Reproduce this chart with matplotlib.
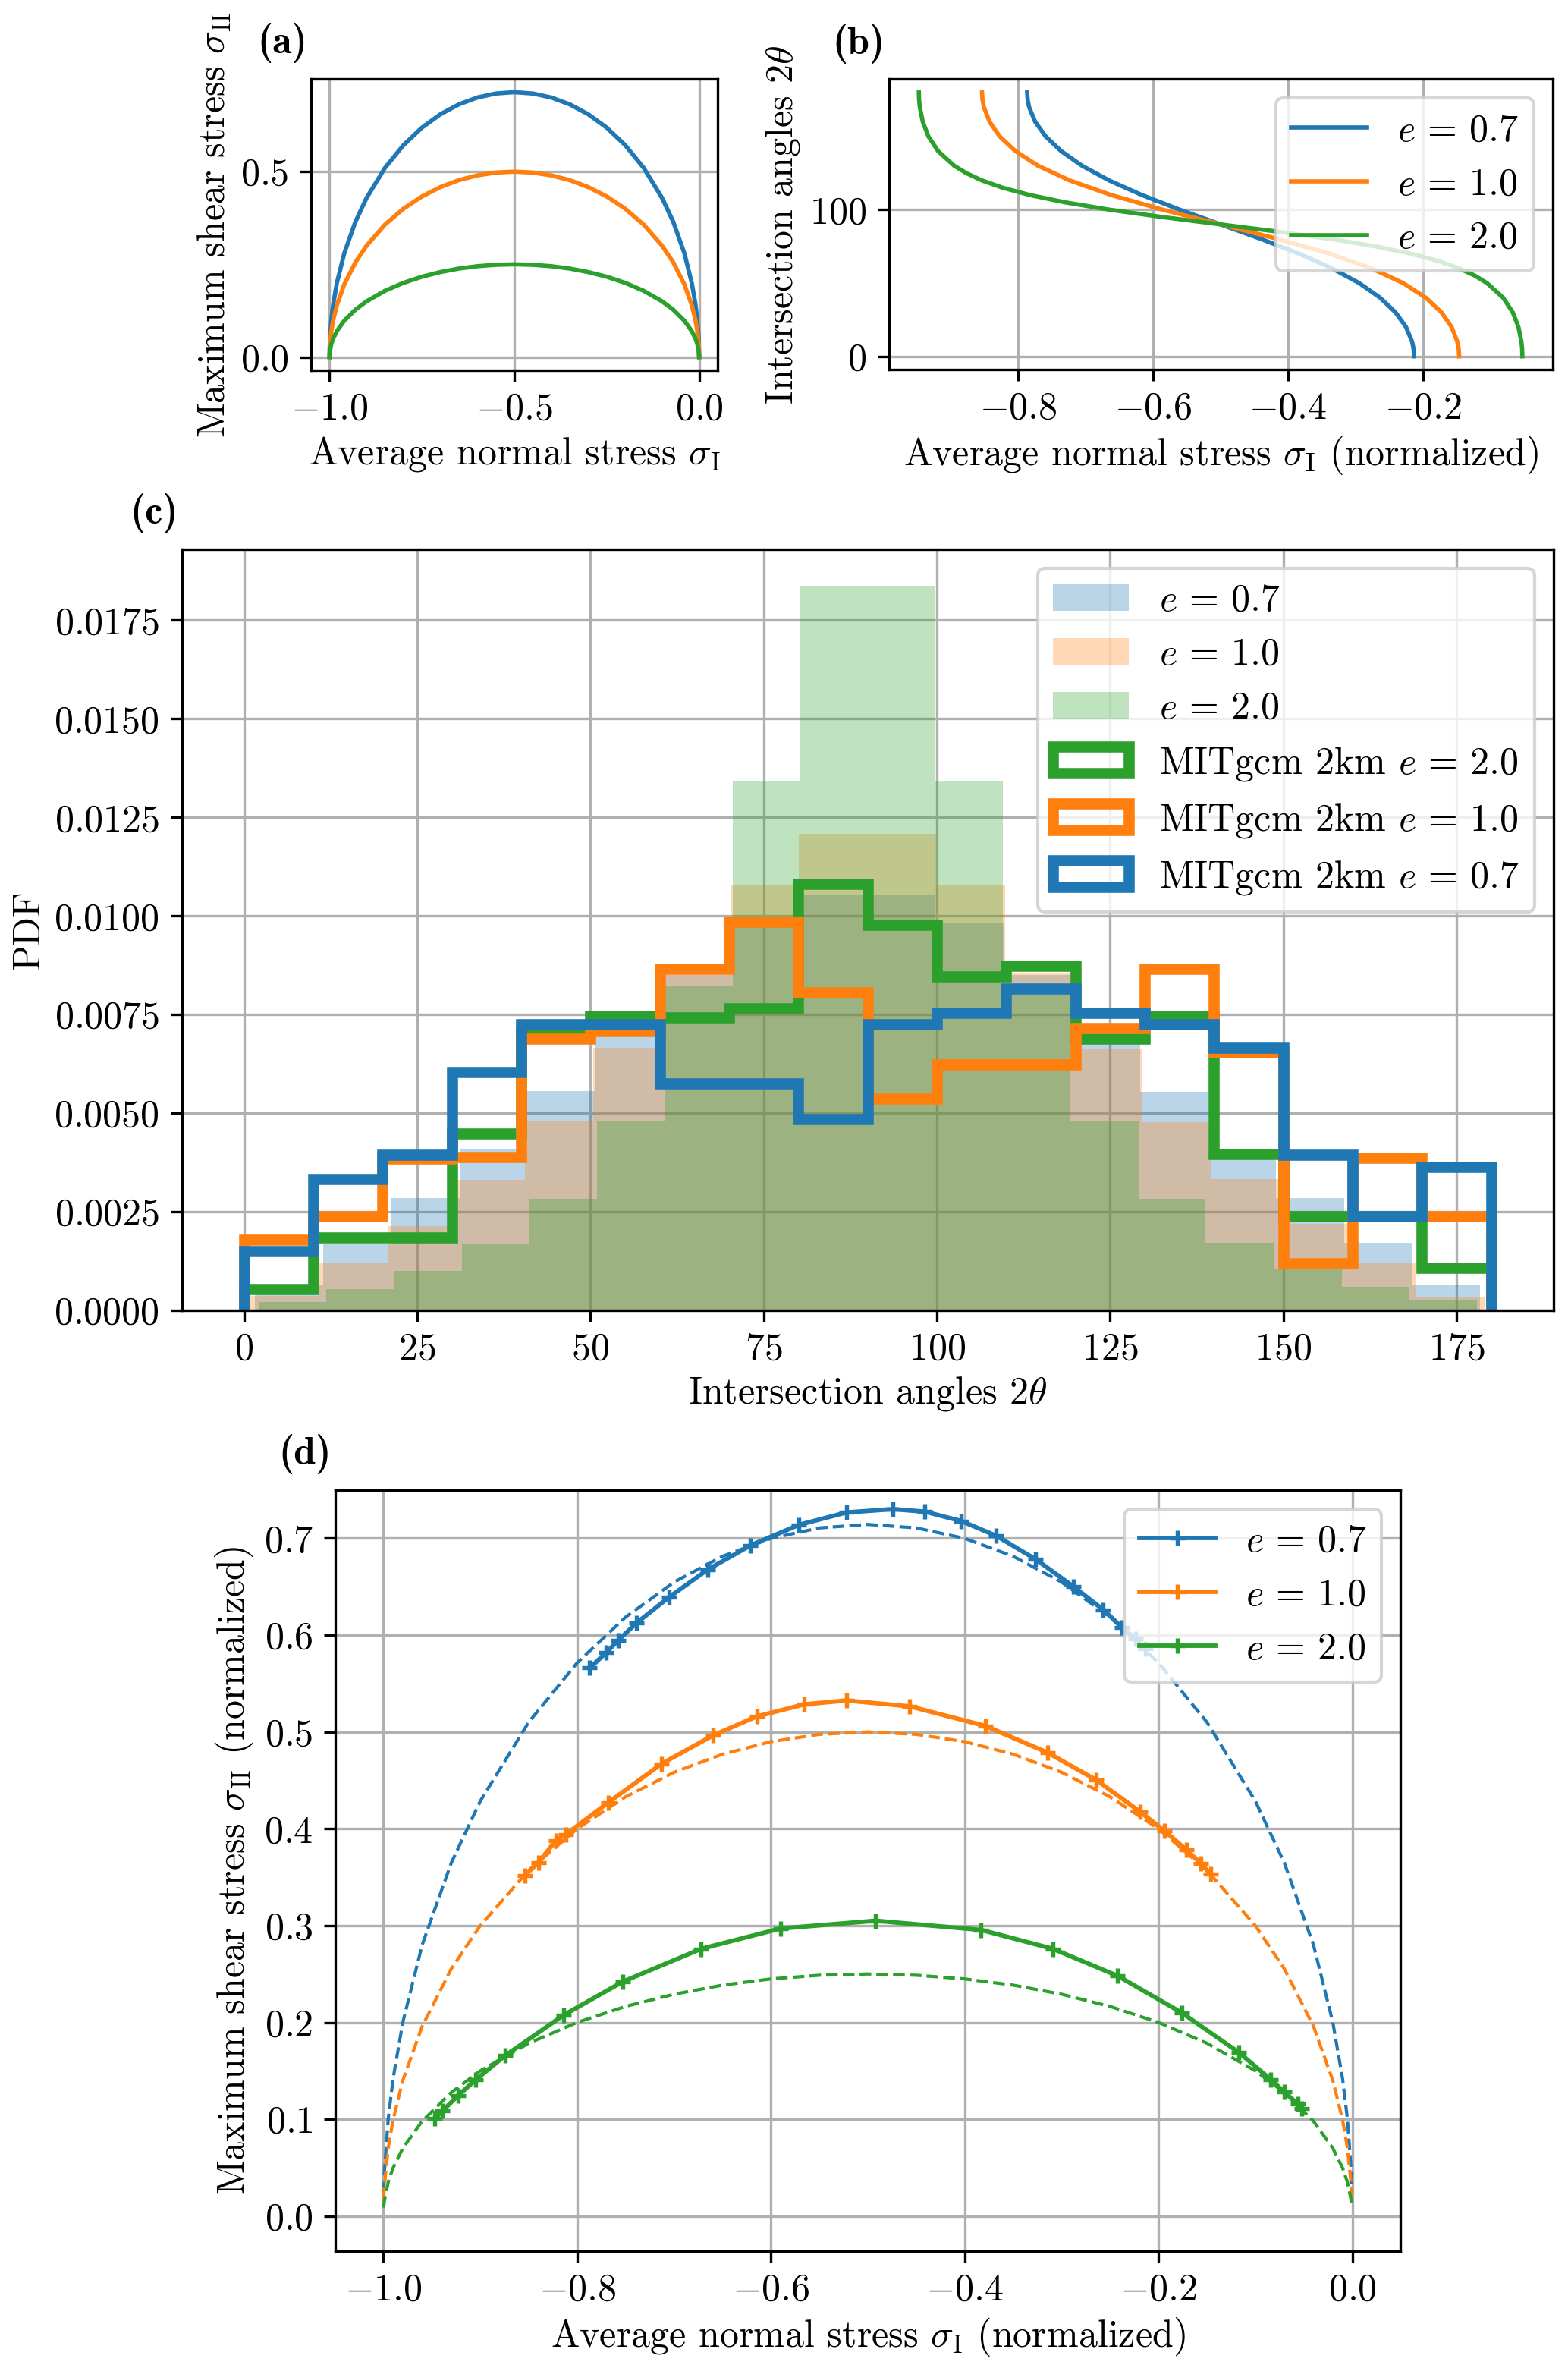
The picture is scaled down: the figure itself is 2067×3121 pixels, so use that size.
import numpy as np
import matplotlib
matplotlib.use("Agg")
import matplotlib.pyplot as plt

plt.rcParams.update({
    "font.family": "serif",
    "font.serif": ["cmr10"],
    "mathtext.fontset": "cm",
    "axes.formatter.use_mathtext": True,
    "font.size": 12,
    "axes.grid": True,
    "axes.axisbelow": True,
    "axes.labelpad": 2.5,
})

# ---------------- data ----------------
e_labels = [r"$e\,=\,0.7$", r"$e\,=\,1.0$", r"$e\,=\,2.0$"]
colors = ["C0", "C1", "C2"]

# (a) yield curves (ellipses), sigma_I vs sigma_II
yc_x = [-1.0, -0.999, -0.995, -0.99, -0.98, -0.96, -0.93, -0.9, -0.85, -0.8, -0.75, -0.7,
        -0.65, -0.6, -0.55, -0.5, -0.45, -0.4, -0.35, -0.3, -0.25, -0.2, -0.15, -0.1,
        -0.07, -0.04, -0.02, -0.01, -0.005, -0.001, 0.0]
yc_e07 = [0.0, 0.0452, 0.1007, 0.1421, 0.2000, 0.2800, 0.3646, 0.4286, 0.5101, 0.5714, 0.6186,
          0.6547, 0.6814, 0.6999, 0.7107, 0.7143, 0.7107, 0.6999, 0.6814, 0.6547, 0.6186,
          0.5714, 0.5101, 0.4286, 0.3646, 0.2800, 0.2000, 0.1421, 0.1007, 0.0452, 0.0]
yc_e10 = [0.0, 0.0316, 0.0705, 0.0995, 0.1400, 0.1960, 0.2552, 0.3000, 0.3571, 0.4000, 0.4330,
          0.4583, 0.4770, 0.4899, 0.4975, 0.5000, 0.4975, 0.4899, 0.4770, 0.4583, 0.4330,
          0.4000, 0.3571, 0.3000, 0.2552, 0.1960, 0.1400, 0.0995, 0.0705, 0.0316, 0.0]
yc_e20 = [0.0, 0.0158, 0.0353, 0.0498, 0.0700, 0.0980, 0.1276, 0.1500, 0.1785, 0.2000, 0.2165,
          0.2291, 0.2385, 0.2449, 0.2487, 0.2500, 0.2487, 0.2449, 0.2385, 0.2291, 0.2165,
          0.2000, 0.1785, 0.1500, 0.1276, 0.0980, 0.0700, 0.0498, 0.0353, 0.0158, 0.0]

# (d) dashed curves end slightly above zero
d_end_x = [-0.9997, -0.0003]
d_end_y = [0.0247, 0.0173, 0.0087]

# (b) intersection angle vs normalized sigma_I
ang_e07 = [0, 5, 10, 20, 30, 40, 50, 60, 70, 80, 90, 100, 110, 120, 130, 140, 150, 160, 170, 175, 180]
sx_e07 = [-0.2133, -0.2140, -0.2162, -0.2252, -0.2408, -0.2637, -0.2948, -0.3348, -0.3836,
          -0.4397, -0.5, -0.5603, -0.6164, -0.6652, -0.7052, -0.7363, -0.7592, -0.7748,
          -0.7838, -0.7860, -0.7867]
ang_e10 = [0, 5, 10, 20, 30, 40, 50, 60, 70, 80, 90, 100, 110, 120, 130, 140, 150, 160, 170, 175, 180]
sx_e10 = [-0.1464, -0.1471, -0.1492, -0.1576, -0.1727, -0.1959, -0.2296, -0.2764, -0.3382,
          -0.4145, -0.5, -0.5855, -0.6618, -0.7236, -0.7704, -0.8041, -0.8273, -0.8424,
          -0.8508, -0.8529, -0.8536]
ang_e20 = [0, 5, 10, 20, 30, 40, 50, 55, 60, 65, 70, 75, 80, 85, 90, 95, 100, 105, 110, 115,
           120, 125, 130, 140, 150, 160, 170, 175, 180]
sx_e20 = [-0.0528, -0.0531, -0.0542, -0.0586, -0.0670, -0.0813, -0.1053, -0.1231, -0.1464,
          -0.1772, -0.2177, -0.2702, -0.3360, -0.4141, -0.5, -0.5859, -0.6640, -0.7298,
          -0.7823, -0.8228, -0.8536, -0.8769, -0.8947, -0.9187, -0.9330, -0.9414, -0.9458,
          -0.9469, -0.9472]

# (c) theoretical PDFs (shaded)
th_edges_e07 = [1.6, 11.4, 21.2, 31.1, 40.9, 50.7, 60.5, 70.4, 80.2, 90.0, 99.8, 109.6, 119.5,
                129.3, 139.1, 148.9, 158.8, 168.6, 178.4]
th_pdf_e07 = [0.00066, 0.00170, 0.00285, 0.00410, 0.00556, 0.00702, 0.00850, 0.00980, 0.01053,
              0.01053, 0.00982, 0.00850, 0.00695, 0.00555, 0.00410, 0.00285, 0.00172, 0.00066]
th_edges_e10 = [0.9, 10.8, 20.7, 30.6, 40.5, 50.4, 60.3, 70.2, 80.1, 90.0, 99.9, 109.8, 119.7,
                129.6, 139.5, 149.4, 159.3, 169.2, 179.1]
th_pdf_e10 = [0.00037, 0.00120, 0.00213, 0.00331, 0.00480, 0.00665, 0.00852, 0.01080, 0.01208,
              0.01208, 0.01080, 0.00857, 0.00661, 0.00478, 0.00333, 0.00220, 0.00120, 0.00032]
th_edges_e20 = [2.1, 11.9, 21.6, 31.4, 41.2, 50.9, 60.7, 70.5, 80.2, 90.0, 99.8, 109.5, 119.3,
                129.1, 138.8, 148.6, 158.4, 168.1, 177.9]
th_pdf_e20 = [0.00021, 0.00054, 0.00100, 0.00170, 0.00283, 0.00481, 0.00822, 0.01342, 0.01837,
              0.01838, 0.01342, 0.00822, 0.00480, 0.00282, 0.00172, 0.00105, 0.00059, 0.00026]

# (c) MITgcm 2km PDFs (step)
mit_edges = [0, 10, 20, 30, 40, 50, 60, 70, 80, 90, 100, 110, 120, 130, 140, 150, 160, 170, 180]
mit_pdf_e07 = [0.00151, 0.00332, 0.00395, 0.00605, 0.00726, 0.00726, 0.00575, 0.00575, 0.00485,
               0.00726, 0.00755, 0.00816, 0.00755, 0.00726, 0.00665, 0.00395, 0.00238, 0.00364]
mit_pdf_e10 = [0.00178, 0.00239, 0.00384, 0.00388, 0.00688, 0.00708, 0.00866, 0.00986, 0.00807,
               0.00537, 0.00624, 0.00624, 0.00715, 0.00866, 0.00654, 0.00120, 0.00387, 0.00238]
mit_pdf_e20 = [0.00053, 0.00185, 0.00185, 0.00449, 0.00708, 0.00746, 0.00742, 0.00766, 0.01082,
               0.00978, 0.00847, 0.00873, 0.00688, 0.00746, 0.00397, 0.00238, 0.00238, 0.00107]

# (d) MITgcm 2km stress states
mit_sI_e07 = [-0.787, -0.770, -0.758, -0.739, -0.705, -0.665, -0.621, -0.571, -0.522, -0.474,
              -0.441, -0.4035, -0.3675, -0.327, -0.288, -0.257, -0.2374, -0.2235, -0.2137]
mit_sII_e07 = [0.5660, 0.5820, 0.5942, 0.6123, 0.6393, 0.6678, 0.6927, 0.7139, 0.7267, 0.7301,
               0.7275, 0.7178, 0.7026, 0.6785, 0.6503, 0.6262, 0.6078, 0.5962, 0.5857]
mit_sI_e10 = [-0.854, -0.840, -0.822, -0.812, -0.768, -0.713, -0.660, -0.6146, -0.5655, -0.522,
              -0.4566, -0.379, -0.3148, -0.2644, -0.219, -0.194, -0.171, -0.156, -0.146]
mit_sII_e10 = [0.352, 0.365, 0.388, 0.394, 0.427, 0.467, 0.4963, 0.516, 0.5285, 0.5325, 0.5264,
               0.5063, 0.4788, 0.4505, 0.4176, 0.398, 0.378, 0.364, 0.353]
mit_sI_e20 = [-0.947, -0.939, -0.923, -0.905, -0.874, -0.814, -0.753, -0.672, -0.590, -0.492,
              -0.383, -0.309, -0.242, -0.176, -0.117, -0.084, -0.070, -0.056, -0.052]
mit_sII_e20 = [0.101, 0.1086, 0.1245, 0.1405, 0.166, 0.2075, 0.242, 0.276, 0.297, 0.305, 0.2955,
               0.276, 0.248, 0.210, 0.169, 0.141, 0.128, 0.1157, 0.111]

# ---------------- figure ----------------
W, H = 2067, 3121
DPI = 300
fig = plt.figure(figsize=(W / DPI, H / DPI), dpi=DPI)


def rect(l, t, r, b):
    return [l / W, 1 - b / H, (r - l) / W, (b - t) / H]


axa = fig.add_axes(rect(410, 104, 946, 488))
axb = fig.add_axes(rect(1171.5, 104.5, 2046.6, 487))
axc = fig.add_axes(rect(239.5, 724, 2048, 1727))
axd = fig.add_axes(rect(442, 1964, 1846, 2966.7))


def panel_label(ax, s):
    ax.annotate(s, xy=(0, 1), xycoords="axes fraction",
                xytext=(-1.2, 5.0), textcoords="offset points",
                ha="right", va="bottom", fontsize=12.5, fontfamily="cmb10")


# (a)
for yv, c in zip([yc_e07, yc_e10, yc_e20], colors):
    axa.plot(yc_x, yv, color=c, lw=1.35)
axa.set_xticks([-1.0, -0.5, 0.0])
axa.set_yticks([0.0, 0.5])
axa.set_xlabel(r"Average normal stress $\sigma_{\rm I}$")
axa.set_ylabel(r"Maximum shear stress $\sigma_{\rm II}$")
panel_label(axa, "(a)")

# (b)
for xs, ang, c, lab in zip([sx_e07, sx_e10, sx_e20], [ang_e07, ang_e10, ang_e20], colors, e_labels):
    axb.plot(xs, ang, color=c, lw=1.35, label=lab)
axb.set_xticks([-0.8, -0.6, -0.4, -0.2])
axb.set_yticks([0, 100])
axb.set_xlabel(r"Average normal stress $\sigma_{\rm I}$ (normalized)")
axb.set_ylabel(r"Intersection angles $2\theta$")
axb.legend(loc="upper right")
panel_label(axb, "(b)")

# (c)
for edges, pdf, c, lab in zip([th_edges_e07, th_edges_e10, th_edges_e20],
                              [th_pdf_e07, th_pdf_e10, th_pdf_e20], colors, e_labels):
    ed = np.asarray(edges)
    mids = 0.5 * (ed[:-1] + ed[1:])
    axc.hist(mids, bins=ed, weights=pdf, color=c, alpha=0.3, label=lab)
for pdf, c, lab in zip([mit_pdf_e20, mit_pdf_e10, mit_pdf_e07], ["C2", "C1", "C0"],
                       ["MITgcm 2km " + e_labels[2], "MITgcm 2km " + e_labels[1],
                        "MITgcm 2km " + e_labels[0]]):
    ed = np.asarray(mit_edges, dtype=float)
    mids = 0.5 * (ed[:-1] + ed[1:])
    axc.hist(mids, bins=ed, weights=pdf, histtype="step", color=c, lw=3.5, label=lab)
axc.set_xticks([0, 25, 50, 75, 100, 125, 150, 175])
axc.set_yticks([0.0, 0.0025, 0.005, 0.0075, 0.01, 0.0125, 0.015, 0.0175])
axc.set_xlabel(r"Intersection angles $2\theta$")
axc.set_ylabel("PDF")
axc.legend(loc="upper right")
panel_label(axc, "(c)")

# (d)
for yv, dy, c in zip([yc_e07, yc_e10, yc_e20], d_end_y, colors):
    xs = [d_end_x[0]] + yc_x[1:-1] + [d_end_x[1]]
    ys = [dy] + yv[1:-1] + [dy]
    axd.plot(xs, ys, "--", color=c, lw=1.0)
for xs, ys, c, lab in zip([mit_sI_e07, mit_sI_e10, mit_sI_e20],
                          [mit_sII_e07, mit_sII_e10, mit_sII_e20], colors, e_labels):
    axd.plot(xs, ys, "-+", color=c, lw=1.4, ms=5, mew=1.3, label=lab)
axd.set_ylim(-0.036, 0.7497)
axd.set_xticks([-1.0, -0.8, -0.6, -0.4, -0.2, 0.0])
axd.set_yticks([0.0, 0.1, 0.2, 0.3, 0.4, 0.5, 0.6, 0.7])
axd.set_xlabel(r"Average normal stress $\sigma_{\rm I}$ (normalized)")
axd.set_ylabel(r"Maximum shear stress $\sigma_{\rm II}$ (normalized)")
axd.legend(loc="upper right")
panel_label(axd, "(d)")

fig.savefig("out.png", dpi=DPI)
